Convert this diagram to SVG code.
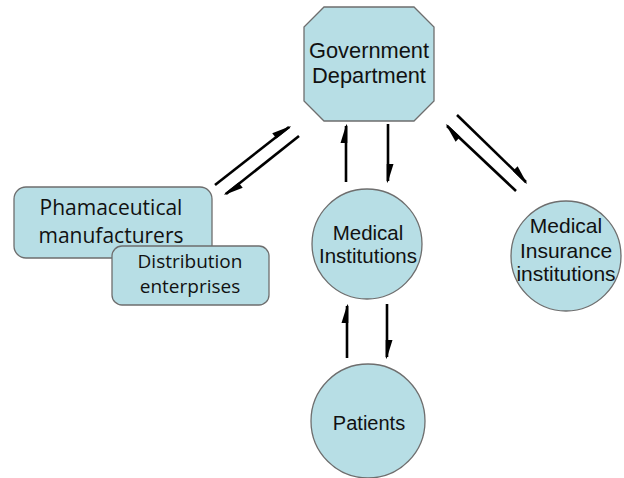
<svg xmlns="http://www.w3.org/2000/svg" width="624" height="478" viewBox="0 0 624 478">
  <style>
    .shape { fill: #b7dee5; stroke: #6e6e6e; stroke-width: 1.3; }
    .arial { font-family: "Liberation Sans", Arial, sans-serif; fill: #111; text-anchor: middle; }
    .humanist { font-family: "Open Sans", "Noto Sans", sans-serif; fill: #111; text-anchor: middle; }
    .flow { fill: none; stroke: #000; stroke-width: 2.6; marker-end: url(#harpoon); }
  </style>
  <defs>
    <!-- half arrowhead: a single tapering barb on one side of the shaft -->
    <marker id="harpoon" markerUnits="userSpaceOnUse" viewBox="-20 -8 24 16" markerWidth="24" markerHeight="16" refX="0" refY="0" orient="auto">
      <path d="M 2 0.4 L -17 -5.5 L -17 1.3 L 0 1.3 Z" fill="#000"/>
    </marker>
  </defs>
  <rect width="624" height="478" fill="#fff"/>

  <g id="connectors">
    <path class="flow" d="M215,185 L289,127"/>
    <path class="flow" d="M299,136 L226,194"/>
    <path class="flow" d="M346,182 L346,126"/>
    <path class="flow" d="M388,124 L388,181"/>
    <path class="flow" d="M347,358 L347,306"/>
    <path class="flow" d="M387,304 L387,357"/>
    <path class="flow" d="M457,115 L526,182"/>
    <path class="flow" d="M516,191 L447,126"/>
  </g>

  <g id="government">
    <polygon class="shape" points="324,7 414,7 434,27 434,101 414,121 324,121 304,101 304,27"/>
    <text class="arial" x="369" y="58" font-size="21.8">Government</text>
    <text class="arial" x="369" y="83" font-size="21.8">Department</text>
  </g>

  <g id="pharmaceutical">
    <rect class="shape" x="14" y="187" width="198" height="71" rx="12"/>
    <text class="humanist" x="111" y="215" font-size="21">Phamaceutical</text>
    <text class="humanist" x="111" y="243" font-size="21">manufacturers</text>
  </g>

  <g id="distribution">
    <rect class="shape" x="112" y="246" width="157" height="59" rx="10"/>
    <text class="humanist" x="190" y="268" font-size="19">Distribution</text>
    <text class="humanist" x="190" y="293" font-size="19">enterprises</text>
  </g>

  <g id="medical-institutions">
    <circle class="shape" cx="367" cy="244" r="55"/>
    <text class="arial" x="368" y="240" font-size="20.5">Medical</text>
    <text class="arial" x="368" y="263" font-size="20.5">Institutions</text>
  </g>

  <g id="medical-insurance">
    <circle class="shape" cx="566" cy="256" r="55"/>
    <text class="arial" x="566" y="233" font-size="21">Medical</text>
    <text class="arial" x="566" y="258" font-size="21">Insurance</text>
    <text class="arial" x="566" y="281" font-size="21">institutions</text>
  </g>

  <g id="patients">
    <circle class="shape" cx="368" cy="421" r="57"/>
    <text class="arial" x="369" y="430" font-size="20">Patients</text>
  </g>
</svg>
